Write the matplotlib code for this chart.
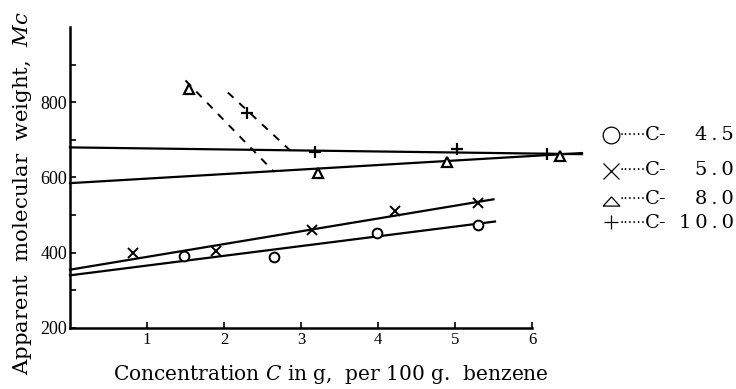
import matplotlib
matplotlib.use("Agg")
import matplotlib.pyplot as plt
from matplotlib.lines import Line2D

plt.rcParams["mathtext.fontset"] = "dejavuserif"

# ---- data ----
series_prefix = ["C-", "C-", "C-", "C-"]
series_values = ["4.5", "5.0", "8.0", "10.0"]

c45_x = [1.48, 2.65, 3.99, 5.30]
c45_y = [392, 390, 452, 475]
c45_fit_x = [0.0, 5.52]
c45_fit_y = [340, 483]

c50_x = [0.82, 1.90, 3.14, 4.22, 5.30]
c50_y = [400, 405, 460, 511, 533]
c50_fit_x = [0.0, 5.50]
c50_fit_y = [355, 542]

c80_x = [1.55, 3.22, 4.90, 6.36]
c80_y = [835, 612, 640, 657]
c80_fit_x = [0.0, 6.65]
c80_fit_y = [585, 665]
c80_dash_x = [1.50, 2.65]
c80_dash_y = [858, 615]

c100_x = [2.30, 3.18, 5.03, 6.20]
c100_y = [771, 668, 675, 662]
c100_fit_x = [0.0, 6.65]
c100_fit_y = [680, 662]
c100_dash_x = [2.05, 2.88]
c100_dash_y = [826, 668]

x_ticks = [1, 2, 3, 4, 5, 6]
y_major = [200, 400, 600, 800]
y_minor = [300, 500, 700, 900]

# ---- figure ----
W, H = 736, 389
fig = plt.figure(figsize=(W / 100, H / 100), dpi=100)
ax = fig.add_axes([70 / W, (H - 328) / H, 512 / W, (328 - 27) / H])
ax.set_xlim(0, 6.65)
ax.set_ylim(200, 1000)

serif = ["DejaVu Serif", "DejaVu Sans"]
lw = 1.6
k = "black"

ax.plot(c45_fit_x, c45_fit_y, color=k, lw=lw, clip_on=False)
ax.plot(c50_fit_x, c50_fit_y, color=k, lw=lw, clip_on=False)
ax.plot(c80_fit_x, c80_fit_y, color=k, lw=lw, clip_on=False)
ax.plot(c100_fit_x, c100_fit_y, color=k, lw=lw, clip_on=False)
ax.plot(c80_dash_x, c80_dash_y, color=k, lw=1.4, ls=(0, (4, 4)), clip_on=False)
ax.plot(c100_dash_x, c100_dash_y, color=k, lw=1.4, ls=(0, (4, 4)), clip_on=False)

ms = 7
ax.plot(c45_x, c45_y, ls="none", marker="o", ms=ms, mfc="white", mec=k, mew=1.4, clip_on=False)
ax.plot(c50_x, c50_y, ls="none", marker="x", ms=ms, mec=k, mew=1.4, clip_on=False)
ax.plot(c80_x, c80_y, ls="none", marker="^", ms=ms, mfc="white", mec=k, mew=1.6, clip_on=False)
ax.plot(c100_x, c100_y, ls="none", marker="+", ms=ms + 2, mec=k, mew=1.6, clip_on=False)

for s in ["top", "right"]:
    ax.spines[s].set_visible(False)
ax.spines["left"].set_linewidth(1.8)
ax.spines["bottom"].set_linewidth(1.8)
ax.spines["bottom"].set_bounds(0, 6)

ax.set_xticks(x_ticks)
ax.set_xticklabels([str(t) for t in x_ticks], family=["Liberation Serif"], fontsize=12)
ax.set_yticks(y_major)
ax.set_yticklabels([str(t) for t in y_major], family=["Liberation Serif"], fontsize=13)
ax.set_yticks(y_minor, minor=True)
ax.tick_params(axis="both", which="both", direction="in", length=4, width=1.2, pad=3)
ax.tick_params(axis="y", pad=2)

fig.text(331 / W, 1 - 375 / H, "Concentration $C$ in g,  per 100 g.  benzene",
         family=serif, fontsize=14.5, ha="center", va="center")
fig.text(23 / W, 1 - 193 / H, "Apparent  molecular  weight,  $Mc$",
         family=serif, fontsize=15.3, rotation=90, ha="center", va="center")

# legend drawn in pixel positions
flat_tri = [(-1, -0.55), (1, -0.55), (0, 0.55), (-1, -0.55)]
legend_markers = ["o", "x", flat_tri, "+"]
rows_y = [135, 170, 199, 223]
sym_y = [135, 171, 201, 222]
sym_size = [12, 12, 12, 9.5]
for mk, pre, val, yy, sy, sz in zip(legend_markers, series_prefix, series_values,
                                    rows_y, sym_y, sym_size):
    fy = 1 - yy / H
    fig.add_artist(Line2D([611 / W], [1 - sy / H], marker=mk, ms=sz, mfc="none", mec=k,
                          mew=0.9, ls="none", transform=fig.transFigure))
    fig.text(620 / W, fy, "······", family=serif, fontsize=10, ha="left", va="center")
    fig.text(645 / W, fy, pre, family=serif, fontsize=14, ha="left", va="center")
    fig.text(734 / W, fy, "\u2009".join(val), family=serif, fontsize=14,
             ha="right", va="center")

fig.savefig("out.png", dpi=100)
